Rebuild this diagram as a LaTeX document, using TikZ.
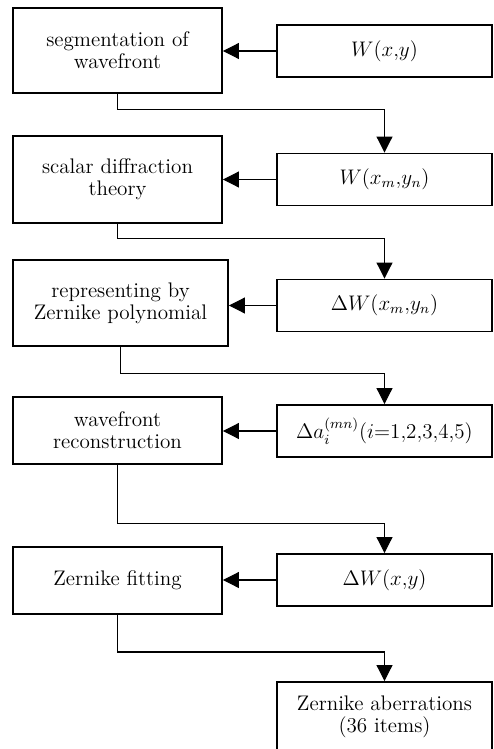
\documentclass[tikz,border=0pt]{standalone}
\usepackage{amsmath}
\usetikzlibrary{arrows.meta,positioning}

\begin{document}
\begin{tikzpicture}
	\tikzstyle{every node}=[font=\fontsize{12}{12.5}\selectfont]
	\tikzstyle{block}=[draw, line width=1.1pt, rectangle, align=center, minimum width=4.18cm, inner sep=2pt]
	\tikzstyle{data}=[draw, line width=1.1pt, rectangle, align=center, minimum width=4.30cm, minimum height=1.04cm, inner sep=2pt]
	\tikzstyle{flow}=[line width=0.6pt, -{Triangle[length=9pt,width=9pt]}]
	\useasboundingbox (0,0) rectangle (9.86,-14.98);
	% left column
	\node[block, minimum height=1.70cm] (seg) at (2.35,-1.01) {segmentation of\\wavefront};
	\node[block, minimum height=1.74cm] (scalar) at (2.35,-3.59) {scalar diffraction\\theory};
	\node[block, minimum height=1.72cm, minimum width=4.30cm] (zern) at (2.41,-6.06) {representing by\\Zernike polynomial};
	\node[block, minimum height=1.34cm] (recon) at (2.35,-8.61) {wavefront\\reconstruction};
	\node[block, minimum height=1.34cm] (fit) at (2.35,-11.61) {Zernike fitting};
	% right column
	\node[data] (wxy) at (7.69,-1.02) {$W(x{,}y)$};
	\node[data] (wmn) at (7.69,-3.59) {$W(x_m{,}y_n)$};
	\node[data] (dwmn) at (7.69,-6.11) {$\Delta W(x_m{,}y_n)$};
	\node[data] (dai) at (7.69,-8.62) {$\Delta a_i^{(mn)}(i{=}1{,}2{,}3{,}4{,}5)$};
	\node[data] (dwxy) at (7.69,-11.60) {$\Delta W(x{,}y)$};
	\node[data, minimum height=1.40cm] (aber) at (7.69,-14.34) {Zernike aberrations\\(36 items)};
	% arrows right to left
	\draw[flow] (wxy.west) -- (wxy.west -| seg.east);
	\draw[flow] (wmn.west) -- (wmn.west -| scalar.east);
	\draw[flow] (dwmn.west) -- (dwmn.west -| zern.east);
	\draw[flow] (dai.west) -- (dai.west -| recon.east);
	\draw[flow] (dwxy.west) -- (dwxy.west -| fit.east);
	% arrows down to the next data box
	\draw[flow] (seg.south) -- ++(0,-0.32) -| (wmn.north);
	\draw[flow] (scalar.south) -- ++(0,-0.30) -| (dwmn.north);
	\draw[flow] (zern.south) -- ++(0,-0.54) -| (dai.north);
	\draw[flow] (recon.south) -- ++(0,-1.18) -| (dwxy.north);
	\draw[flow] (fit.south) -- ++(0,-0.74) -| (aber.north);
\end{tikzpicture}
\end{document}
